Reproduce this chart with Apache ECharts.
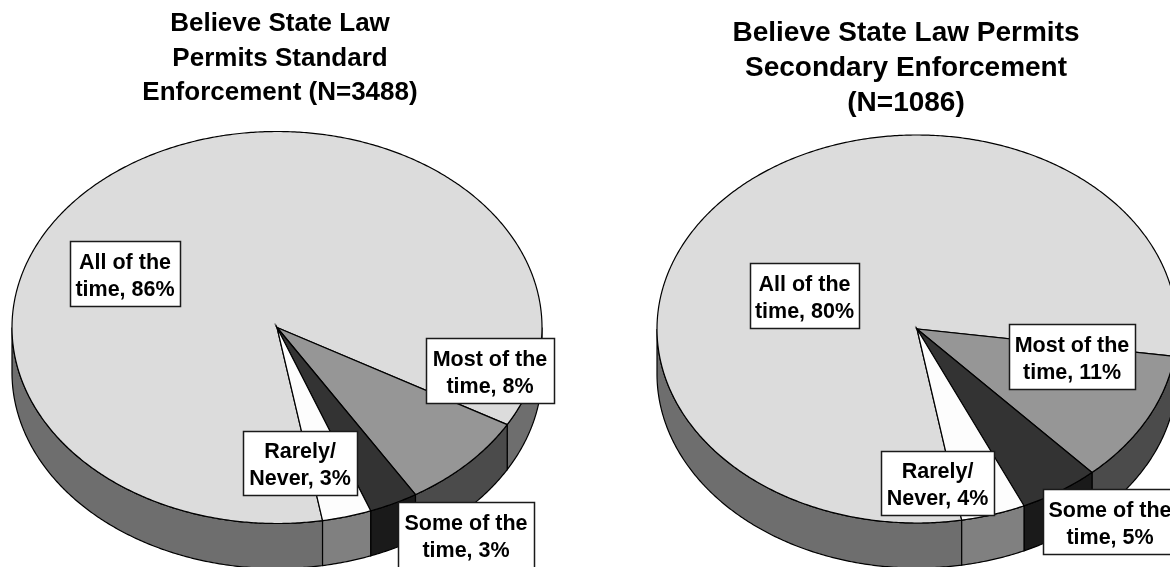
<!DOCTYPE html>
<html>
<head>
<meta charset="utf-8">
<style>html,body{margin:0;padding:0;background:#fff;overflow:hidden}#c{width:1170px;height:567px}</style>
<script src="https://cdn.jsdelivr.net/npm/echarts@6/dist/echarts.min.js"></script>
</head>
<body>
<div id="c"></div>
<script>
const categories = ["All of the\ntime", "Most of the\ntime", "Some of the\ntime", "Rarely/\nNever"];
const standardValues = [86, 8, 3, 3];
const secondaryValues = [80, 11, 5, 4];
const standardTitle = "Believe State Law\nPermits Standard\nEnforcement (N=3488)";
const secondaryTitle = "Believe State Law Permits\nSecondary Enforcement\n(N=1086)";

const topColors = ["#dcdcdc", "#969696", "#333333", "#fdfdfd"];
const sideColors = ["#6e6e6e", "#4b4b4b", "#1a1a1a", "#808080"];
const startDeg = 170.1;

const standardPie = {cx: 277, cy: 327.5, rx: 265, ry: 196, depth: 45};
const secondaryPie = {cx: 917, cy: 329, rx: 260, ry: 194, depth: 45};
const standardBoxes = [[70,241,110,65],[426,338,128,65],[398,502,136,66],[243,431,114,64]];
const secondaryBoxes = [[750,263,109,65],[1009,324,126,65],[1043,489,134,65],[881,451,113,64]];

function pt(p, deg, dy) {
  const t = deg * Math.PI / 180;
  return [p.cx + p.rx * Math.sin(t), p.cy - p.ry * Math.cos(t) + (dy || 0)];
}
function arc(p, a, b, dy) {
  const out = [], n = Math.max(2, Math.ceil(Math.abs(b - a) * 2));
  for (let i = 0; i <= n; i++) out.push(pt(p, a + (b - a) * i / n, dy));
  return out;
}
function sidePieces(p, a, b, fill) {
  const res = [];
  for (let k = -1; k <= 1; k++) {
    const lo = Math.max(a, 90 + 360 * k), hi = Math.min(b, 270 + 360 * k);
    if (hi > lo) {
      res.push({
        type: 'polygon',
        shape: {points: arc(p, lo, hi, 0).concat(arc(p, hi, lo, p.depth))},
        style: {fill: fill, stroke: '#000', lineWidth: 1.2}
      });
    }
  }
  return res;
}
function pieSeries(values, geom) {
  const total = values.reduce((s, v) => s + v, 0);
  return {
    type: 'custom', coordinateSystem: 'none', z: 2, silent: true, animation: false,
    data: values.map((v, i) => [v, i]),
    renderItem: function (params) {
      const i = params.dataIndex;
      let before = 0;
      for (let k = 0; k < i; k++) before += values[k];
      const a = startDeg + before / total * 360;
      const b = a + values[i] / total * 360;
      const top = [[geom.cx, geom.cy]].concat(arc(geom, a, b, 0));
      return {
        type: 'group',
        children: sidePieces(geom, a, b, sideColors[i]).concat([{
          type: 'polygon', z2: 5,
          shape: {points: top},
          style: {fill: topColors[i], stroke: '#000', lineWidth: 1.2, lineJoin: 'miter'}
        }])
      };
    }
  };
}
function labelSeries(values, boxes) {
  return {
    type: 'custom', coordinateSystem: 'none', z: 5, silent: true, animation: false,
    data: values.map((v, i) => [v, i]),
    renderItem: function (params) {
      const i = params.dataIndex, r = boxes[i];
      return {
        type: 'group',
        children: [
          {type: 'rect', shape: {x: r[0] + .5, y: r[1] + .5, width: r[2], height: r[3]},
           style: {fill: '#fff', stroke: '#1a1a1a', lineWidth: 1.5}},
          {type: 'text', x: r[0] + r[2] / 2, y: r[1] + r[3] / 2 + 3,
           style: {text: categories[i] + ", " + values[i] + "%", fill: '#000',
             font: 'bold 21.5px "Liberation Sans", Arial, sans-serif', lineHeight: 27,
             align: 'center', verticalAlign: 'middle'}}
        ]
      };
    }
  };
}
const titleStyle = {fontFamily: '"Liberation Sans", Arial, sans-serif', fontWeight: 'bold', fontSize: 26, lineHeight: 34.5, color: '#000', align: 'center'};
const titleStyleWide = Object.assign({}, titleStyle, {fontSize: 28, lineHeight: 35});
const chart = echarts.init(document.getElementById('c'));
chart.setOption({
  animation: false,
  backgroundColor: '#fff',
  title: [
    {text: standardTitle, left: 280, top: 7, textAlign: 'center', padding: 0, textStyle: titleStyle},
    {text: secondaryTitle, left: 906, top: 16, textAlign: 'center', padding: 0, textStyle: titleStyleWide}
  ],
  series: [
    pieSeries(standardValues, standardPie),
    pieSeries(secondaryValues, secondaryPie),
    labelSeries(standardValues, standardBoxes),
    labelSeries(secondaryValues, secondaryBoxes)
  ]
});
</script>
</body>
</html>
